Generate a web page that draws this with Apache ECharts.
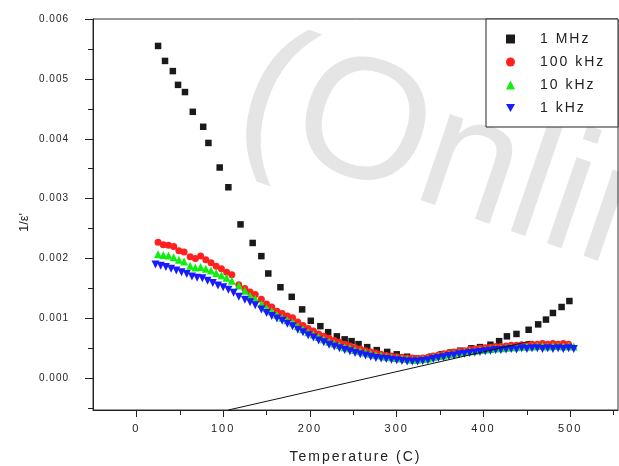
<!DOCTYPE html>
<html><head><meta charset="utf-8">
<script src="https://cdn.jsdelivr.net/npm/echarts@6/dist/echarts.min.js"></script>
<style>html,body{margin:0;padding:0;background:#fff}#c{width:619px;height:466px}</style>
</head><body><div id="c"></div>
<script>
// ---- data (temperature in C, 1/eps') ----
const temp1MHz = [25,33,42,48,56,65,77,83,96,106,120,134,144,152,166,179,191,201,212,221,231,240,248,256,266,277,289,300,312,323,332,340,352,362,373,386,396,408,418,427,438,452,463,472,480,490,499];
const inv1MHz = [0.00555,0.00530,0.00513,0.00490,0.00478,0.00445,0.00420,0.00393,0.00352,0.00319,0.00257,0.00226,0.00204,0.00175,0.00152,0.00136,0.00115,0.00096,0.00087,0.00077,0.00070,0.00065,0.00062,0.00057,0.00052,0.00047,0.00044,0.00040,0.00036,0.00033,0.00033,0.00036,0.00040,0.00043,0.00046,0.00050,0.00052,0.00056,0.00062,0.00070,0.00074,0.00081,0.00090,0.00098,0.00109,0.00119,0.00129];

const temp100kHz = [25,31,37,43,49,55,62,68,74,80,86,92,98,104,110,118,125,131,137,144,150,156,162,168,174,180,186,192,198,204,210,216,222,228,234,240,246,252,258,264,270,276,282,288,294,300,306,312,318,324,330,336,342,348,354,360,366,372,378,384,390,396,402,408,414,420,426,432,438,444,450,456,462,468,474,480,486,492,498];
const inv100kHz = [0.00227,0.00223,0.00222,0.00220,0.00213,0.00211,0.00203,0.00200,0.00204,0.00198,0.00193,0.00187,0.00183,0.00177,0.00173,0.00156,0.00150,0.00144,0.00140,0.00132,0.00124,0.00119,0.00112,0.00108,0.00104,0.00101,0.00094,0.00088,0.00083,0.00079,0.00074,0.00070,0.00067,0.00063,0.00060,0.00057,0.00054,0.00051,0.00049,0.00046,0.00044,0.00042,0.00040,0.00038,0.00037,0.00036,0.00035,0.00034,0.00034,0.00033,0.00034,0.00035,0.00037,0.00039,0.00041,0.00042,0.00044,0.00045,0.00046,0.00048,0.00049,0.00050,0.00051,0.00052,0.00053,0.00053,0.00054,0.00055,0.00055,0.00056,0.00056,0.00057,0.00057,0.00058,0.00057,0.00058,0.00057,0.00058,0.00057];

const temp10kHz = [25,31,37,43,49,55,62,68,74,80,86,92,98,104,110,118,125,131,137,144,150,156,162,168,174,180,186,192,198,204,210,216,222,228,234,240,246,252,258,264,270,276,282,288,294,300,306,312,318,324,330,336,342,348,354,360,366,372,378,384,390,396,402,408,414,420,426,432,438,444,450,456,462,468,474,480,486,492,498,504];
const inv10kHz = [0.00207,0.00206,0.00205,0.00202,0.00198,0.00195,0.00188,0.00185,0.00186,0.00183,0.00180,0.00176,0.00172,0.00168,0.00163,0.00155,0.00146,0.00138,0.00133,0.00124,0.00117,0.00112,0.00106,0.00101,0.00097,0.00093,0.00087,0.00082,0.00077,0.00073,0.00069,0.00065,0.00061,0.00058,0.00055,0.00052,0.00050,0.00047,0.00045,0.00043,0.00041,0.00039,0.00038,0.00036,0.00035,0.00034,0.00033,0.00032,0.00031,0.00031,0.00032,0.00033,0.00035,0.00037,0.00038,0.00040,0.00041,0.00043,0.00044,0.00045,0.00046,0.00047,0.00048,0.00049,0.00050,0.00050,0.00051,0.00052,0.00052,0.00053,0.00053,0.00053,0.00054,0.00054,0.00053,0.00054,0.00054,0.00053,0.00054,0.00053];

const temp1kHz = [22,28,34,40,46,52,58,64,70,76,82,88,94,100,106,112,118,125,131,137,144,150,156,162,168,174,180,186,192,198,204,210,216,222,228,234,240,246,252,258,264,270,276,282,288,294,300,306,312,318,324,330,336,342,348,354,360,366,372,378,384,390,396,402,408,414,420,426,432,438,444,450,456,462,468,474,480,486,492,498,504];
const inv1kHz = [0.00190,0.00188,0.00186,0.00183,0.00180,0.00177,0.00174,0.00170,0.00168,0.00167,0.00163,0.00159,0.00155,0.00152,0.00148,0.00143,0.00136,0.00131,0.00127,0.00122,0.00115,0.00109,0.00104,0.00100,0.00096,0.00091,0.00087,0.00081,0.00077,0.00072,0.00068,0.00063,0.00060,0.00056,0.00053,0.00050,0.00047,0.00045,0.00042,0.00040,0.00038,0.00036,0.00034,0.00033,0.00032,0.00031,0.00030,0.00029,0.00028,0.00028,0.00028,0.00029,0.00030,0.00032,0.00034,0.00035,0.00037,0.00038,0.00040,0.00041,0.00042,0.00043,0.00044,0.00045,0.00046,0.00047,0.00047,0.00048,0.00049,0.00048,0.00050,0.00049,0.00050,0.00050,0.00049,0.00050,0.00049,0.00050,0.00049,0.00050,0.00049];

const fitTemp = [106, 454];
const fitInv = [-0.00053, 0.00062];

const xTickLabels = [0, 100, 200, 300, 400, 500];
const xMinorTicks = [50, 150, 250, 350, 450, 550];
const yTickLabels = [0.000, 0.001, 0.002, 0.003, 0.004, 0.005, 0.006];
const yMinorTicks = [-0.0005, 0.0005, 0.0015, 0.0025, 0.0035, 0.0045, 0.0055];

const zip = (xs, ys) => xs.map((x, i) => [x, ys[i]]);
const FONT = '"Liberation Sans", Arial, sans-serif';
const downTri = 'path://M0,0 L10,0 L5,9 Z';

// wide letter spacing of the original export, keyed by font size
const SPACING = {10: '1px', 11: '2px', 14: '2px'};
const origFill = CanvasRenderingContext2D.prototype.fillText;
CanvasRenderingContext2D.prototype.fillText = function () {
  const m = /(\d+)px/.exec(this.font || '');
  const sp = m && SPACING[+m[1]];
  if (sp && 'letterSpacing' in this) {
    const prev = this.letterSpacing;
    this.letterSpacing = sp;
    origFill.apply(this, arguments);
    this.letterSpacing = prev;
  } else {
    origFill.apply(this, arguments);
  }
};

const chart = echarts.init(document.getElementById('c'), null, {renderer: 'canvas'});
const axisLineStyle = {color: '#222', width: 1};
chart.setOption({
  animation: false,
  backgroundColor: '#fff',
  grid: {left: 93, top: 19, right: 1, bottom: 56, containLabel: false, outerBoundsMode: 'none',
         show: true, borderColor: '#333', borderWidth: 1, backgroundColor: 'transparent'},
  xAxis: [{
    type: 'value', min: -50, max: 555,
    name: 'Temperature (C)', nameLocation: 'middle', nameGap: 40,
    nameTextStyle: {fontFamily: FONT, fontSize: 14, color: '#222'},
    axisLine: {show: true, onZero: false, lineStyle: axisLineStyle},
    axisTick: {show: true, inside: false, length: 7, customValues: xTickLabels, lineStyle: {color: '#222'}},
    axisLabel: {customValues: xTickLabels, margin: 13, fontFamily: FONT, fontSize: 11, color: '#222', formatter: v => String(v)},
    splitLine: {show: false}
  }, {
    type: 'value', min: -50, max: 555, position: 'bottom',
    axisLine: {show: false, onZero: false},
    axisTick: {show: true, length: 5, customValues: xMinorTicks, lineStyle: {color: '#222'}},
    axisLabel: {show: false},
    splitLine: {show: false}
  }],
  yAxis: [{
    type: 'value', min: -0.00053, max: 0.006,
    name: "1/ε'", nameLocation: 'middle', nameGap: 62, nameRotate: 90,
    nameTextStyle: {fontFamily: FONT, fontSize: 13, color: '#222', padding: [0, 16, 0, 0]},
    axisLine: {show: true, onZero: false, lineStyle: axisLineStyle},
    axisTick: {show: true, length: 8, customValues: yTickLabels, lineStyle: {color: '#222'}},
    axisLabel: {customValues: yTickLabels, margin: 24, fontFamily: FONT, fontSize: 10, color: '#222', formatter: v => v.toFixed(3)},
    splitLine: {show: false}
  }, {
    type: 'value', min: -0.00053, max: 0.006, position: 'left',
    axisLine: {show: false, onZero: false},
    axisTick: {show: true, length: 5, customValues: yMinorTicks, lineStyle: {color: '#222'}},
    axisLabel: {show: false},
    splitLine: {show: false}
  }],
  legend: {
    data: ['1 MHz', '100 kHz', '10 kHz', '1 kHz'],
    orient: 'vertical', left: 506, top: 32,
    itemWidth: 9, itemHeight: 9, itemGap: 9,
    padding: 0,
    textStyle: {fontFamily: FONT, fontSize: 14, color: '#222', padding: [0, 0, 0, 20]}
  },
  graphic: [
    {type: 'text', x: 272, y: 8, rotation: -0.33, z: -1, silent: true,
     style: {text: '(Online', fontSize: 172, fontFamily: FONT, fill: '#e5e5e5'}},
    {type: 'rect', shape: {x: 486, y: 19, width: 132, height: 108}, z: 3, silent: true,
     style: {fill: '#fff', stroke: '#222', lineWidth: 1}}
  ],
  series: [
    {name: '1 MHz', type: 'scatter', data: zip(temp1MHz, inv1MHz), symbol: 'rect', symbolSize: 6.5, itemStyle: {color: '#1a1a1a', opacity: 1}, z: 2},
    {name: '100 kHz', type: 'scatter', data: zip(temp100kHz, inv100kHz), symbol: 'circle', symbolSize: 7, itemStyle: {color: '#ff2020', opacity: 1}, z: 3},
    {name: '10 kHz', type: 'scatter', data: zip(temp10kHz, inv10kHz), symbol: 'triangle', symbolSize: 8, itemStyle: {color: '#10ee10', opacity: 1}, z: 4},
    {name: '1 kHz', type: 'scatter', data: zip(temp1kHz, inv1kHz), symbol: downTri, symbolSize: 8, itemStyle: {color: '#1a1aff', opacity: 1}, z: 5},
    {name: 'fit', type: 'line', data: zip(fitTemp, fitInv), symbol: 'none', lineStyle: {color: '#111', width: 1}, clip: true, z: 6}
  ]
});
</script>
</body></html>
